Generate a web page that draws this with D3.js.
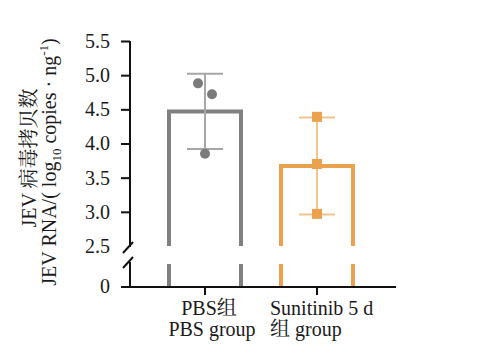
<!DOCTYPE html>
<html>
<head>
<meta charset="utf-8">
<script src="https://cdn.jsdelivr.net/npm/d3@7"></script>
<style>
  body { margin: 0; background: #fff; }
  svg text { font-family: "Liberation Serif", "Times New Roman", "DejaVu Serif", "Noto Serif CJK SC", "Noto Sans CJK SC", serif !important; fill: #1a1a1a; }
</style>
</head>
<body>
<svg id="chart"></svg>
<script>
const width = 503;
const height = 359;

const groups = ["PBS", "Sunitinib"];
const means = [4.47, 3.67];
const sds = [0.55, 0.71];
const points = [[4.88, 4.72, 3.85], [4.39, 3.70, 2.97]];
const jitter = [[-7, 7, 0], [0, 0, 0]];
const upperTicks = [2.5, 3.0, 3.5, 4.0, 4.5, 5.0, 5.5];
const strokeColors = ["#808080", "#eba24f"];
const errColors = ["#a6a6a6", "#f0c48e"];
const dotColors = ["#7b7b7b", "#eba24f"];

const svg = d3.select("#chart").attr("width", width).attr("height", height);

const axisX = 130;
const baseY = 287;
const breakTop = 246;
const breakBottom = 264;
const fs = "20px";

const x = d3.scalePoint().domain(groups).range([205, 317]);
const yUp = d3.scaleLinear().domain([2.5, 5.5]).range([breakTop, 41]);

const barW = 72;

// bars (outline only, broken)
groups.forEach((g, i) => {
  const cx = x(g);
  const top = yUp(means[i]);
  const l = cx - barW / 2, r = cx + barW / 2;
  const gEl = svg.append("g")
    .attr("fill", "none")
    .attr("stroke", strokeColors[i])
    .attr("stroke-width", 4);
  gEl.append("path")
    .attr("d", `M${l},${yUp(2.5)}V${top}H${r}V${yUp(2.5)}`);
  gEl.append("line").attr("x1", l).attr("x2", l).attr("y1", breakBottom).attr("y2", baseY);
  gEl.append("line").attr("x1", r).attr("x2", r).attr("y1", breakBottom).attr("y2", baseY);

  // error bar
  const hi = yUp(means[i] + sds[i]);
  const lo = yUp(means[i] - sds[i]);
  const e = svg.append("g").attr("stroke", errColors[i]).attr("stroke-width", 2);
  e.append("line").attr("x1", cx).attr("x2", cx).attr("y1", hi).attr("y2", lo);
  e.append("line").attr("x1", cx - 18).attr("x2", cx + 18).attr("y1", hi).attr("y2", hi);
  e.append("line").attr("x1", cx - 18).attr("x2", cx + 18).attr("y1", lo).attr("y2", lo);

  // points
  points[i].forEach((v, j) => {
    const px = cx + jitter[i][j];
    if (i === 0) {
      svg.append("circle").attr("cx", px).attr("cy", yUp(v)).attr("r", 5)
        .attr("fill", dotColors[i]);
    } else {
      svg.append("rect").attr("x", px - 5).attr("y", yUp(v) - 5)
        .attr("width", 10).attr("height", 10).attr("fill", dotColors[i]);
    }
  });
});

// y axis upper
const yAxisG = svg.append("g").attr("transform", `translate(${axisX},0)`)
  .call(d3.axisLeft(yUp).tickValues(upperTicks).tickFormat(d3.format(".1f")).tickSize(9).tickPadding(11));
yAxisG.select(".domain").remove();
yAxisG.attr("font-size", null).attr("font-family", null);
yAxisG.selectAll("line").attr("stroke", "#111").attr("stroke-width", 2);
yAxisG.selectAll("text").style("font-size", fs).attr("fill", "#1a1a1a");
yAxisG.selectAll(".tick").filter(d => d === 2.5).select("line").remove();

const ax = svg.append("g").attr("stroke", "#111").attr("stroke-width", 2).attr("fill", "none");
ax.append("line").attr("x1", axisX).attr("x2", axisX).attr("y1", yUp(5.5)).attr("y2", 247);
ax.append("line").attr("x1", axisX).attr("x2", axisX).attr("y1", 262).attr("y2", baseY);
// break marks
ax.append("line").attr("x1", 123).attr("y1", 253).attr("x2", 133).attr("y2", 242);
ax.append("line").attr("x1", 123).attr("y1", 268).attr("x2", 133).attr("y2", 257);
// zero tick
ax.append("line").attr("x1", axisX - 9).attr("x2", axisX).attr("y1", baseY).attr("y2", baseY);
svg.append("text").attr("x", axisX - 20).attr("y", baseY).attr("dy", "0.32em")
  .attr("text-anchor", "end").style("font-size", fs).text("0");

// x axis
ax.append("line").attr("x1", axisX - 1).attr("x2", 396).attr("y1", baseY).attr("y2", baseY);
groups.forEach(g => {
  ax.append("line").attr("x1", x(g)).attr("x2", x(g)).attr("y1", baseY).attr("y2", baseY + 8);
});

// x labels
const xl = svg.append("g").style("font-size", fs);
xl.append("text").attr("x", 209).attr("y", 315).attr("text-anchor", "middle").text("PBS组");
xl.append("text").attr("x", 212).attr("y", 336).attr("text-anchor", "middle").text("PBS group");
xl.append("text").attr("x", 270).attr("y", 315).text("Sunitinib 5 d");
xl.append("text").attr("x", 270).attr("y", 336).text("组 group");

// y title
const yt = svg.append("g").style("font-size", fs);
yt.append("text").attr("transform", "translate(36,158) rotate(-90)")
  .attr("text-anchor", "middle").text("JEV 病毒拷贝数");
const t2 = yt.append("text").attr("transform", "translate(56,162) rotate(-90)")
  .attr("text-anchor", "middle");
t2.append("tspan").text("JEV RNA/( log");
t2.append("tspan").attr("dy", 5).style("font-size", "13px").text("10");
t2.append("tspan").attr("dy", -5).text(" copies · ng");
t2.append("tspan").attr("dy", -8).style("font-size", "13px").text("-1");
t2.append("tspan").attr("dy", 8).text(")");
</script>
</body>
</html>
